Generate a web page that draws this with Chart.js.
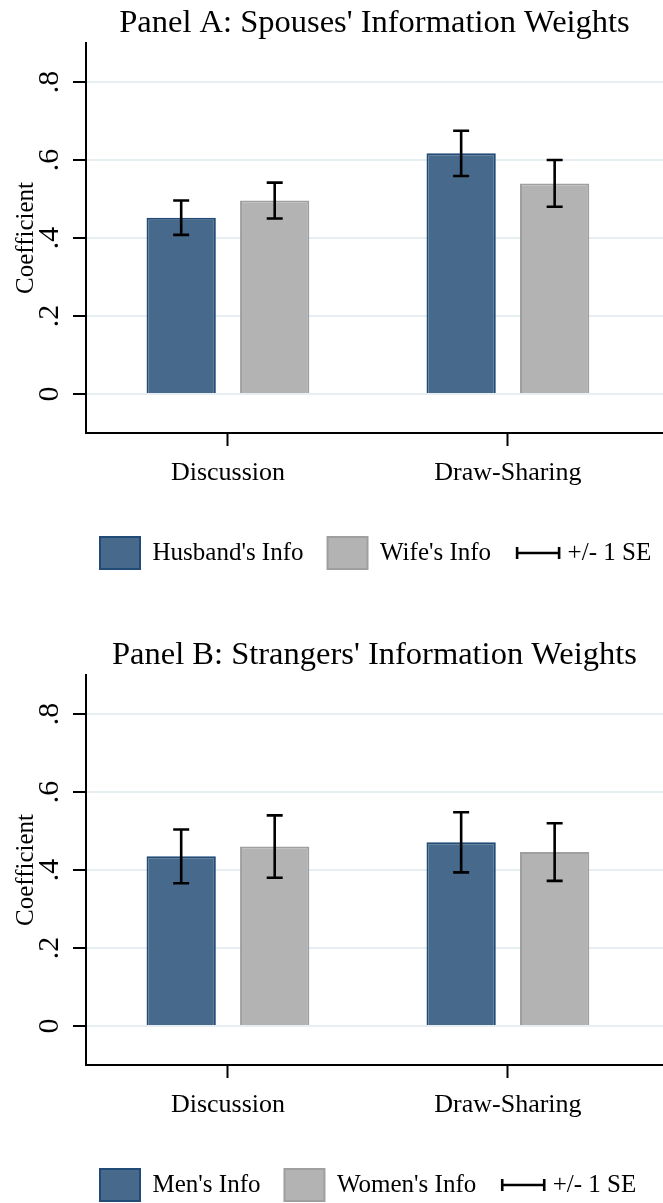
<!DOCTYPE html>
<html>
<head>
<meta charset="utf-8">
<script src="https://cdn.jsdelivr.net/npm/chart.js@4.4.1/dist/chart.umd.min.js"></script>
<style>
  html, body { margin: 0; padding: 0; background: #fff; overflow: hidden; width: 663px; height: 1203px; }
  .panel { position: absolute; left: 0; width: 663px; height: 600px; }
  #panelA { top: 0; }
  #panelB { top: 632px; }
</style>
</head>
<body>
<div class="panel" id="panelA"><canvas id="chartA" width="663" height="600"></canvas></div>
<div class="panel" id="panelB"><canvas id="chartB" width="663" height="600"></canvas></div>
<script>
// ---- data ----
const categories = ['Discussion', 'Draw-Sharing'];
const yTicks = [0, 0.2, 0.4, 0.6, 0.8];
const yTickLabels = ['0', '.2', '.4', '.6', '.8'];

// Panel A: spouses
const husbandInfo = [0.452, 0.617];
const husbandSE   = [0.044, 0.058];
const wifeInfo    = [0.496, 0.540];
const wifeSE      = [0.046, 0.060];

// Panel B: strangers
const menInfo   = [0.435, 0.471];
const menSE     = [0.069, 0.077];
const womenInfo = [0.460, 0.446];
const womenSE   = [0.080, 0.074];

const seLabel = '+/- 1 SE';

// ---- styling ----
const FONT = "'Liberation Serif', 'Times New Roman', serif";
const NAVY_FILL = '#476a8c', NAVY_EDGE = '#1f4b76';
const GREY_FILL = '#b3b3b3', GREY_EDGE = '#9f9f9f';
const GRID = '#e6eef1';
const LEGEND_PAD = 24;

function makePanel(canvasId, titleText, series) {
  // whiskers of +/- 1 SE drawn on top of each bar
  const errorBars = {
    id: 'errorBars',
    afterDatasetsDraw(chart) {
      const ctx = chart.ctx, y = chart.scales.y;
      ctx.save();
      ctx.strokeStyle = '#000';
      ctx.lineWidth = 2.6;
      series.forEach((s, d) => {
        chart.getDatasetMeta(d).data.forEach((bar, i) => {
          const top = y.getPixelForValue(s.values[i] + s.se[i]);
          const bot = y.getPixelForValue(s.values[i] - s.se[i]);
          ctx.beginPath();
          ctx.moveTo(bar.x, top); ctx.lineTo(bar.x, bot);
          ctx.moveTo(bar.x - 8, top); ctx.lineTo(bar.x + 8, top);
          ctx.moveTo(bar.x - 8, bot); ctx.lineTo(bar.x + 8, bot);
          ctx.stroke();
        });
      });
      ctx.restore();
    }
  };

  // start the legend row just inside the plot region and draw the whisker key
  const legendKey = {
    id: 'legendKey',
    afterLayout(chart) {
      chart.legend.left = chart.chartArea.left + 14 - LEGEND_PAD;
      chart.legend.right = chart.width + 80;
    },
    afterDraw(chart) {
      const hb = chart.legend.legendHitBoxes[series.length];
      if (!hb) return;
      const ctx = chart.ctx;
      const cy = hb.top + hb.height / 2;
      const x0 = hb.left + 2, x1 = hb.left + 44;
      ctx.save();
      ctx.strokeStyle = '#000';
      ctx.lineWidth = 2.6;
      ctx.beginPath();
      ctx.moveTo(x0, cy); ctx.lineTo(x1, cy);
      ctx.moveTo(x0, cy - 6); ctx.lineTo(x0, cy + 6);
      ctx.moveTo(x1, cy - 6); ctx.lineTo(x1, cy + 6);
      ctx.stroke();
      ctx.restore();
    }
  };

  return new Chart(document.getElementById(canvasId), {
    type: 'bar',
    data: {
      datasets: series.map(s => ({
        label: s.label,
        data: s.values.map((v, i) => ({ x: i + 1, y: v })),
        backgroundColor: s.fill,
        borderColor: s.edge,
        borderWidth: 2,
        categoryPercentage: 0.668,
        barPercentage: 0.741
      }))
    },
    options: {
      responsive: false,
      animation: false,
      devicePixelRatio: 1,
      layout: { padding: { top: 0, left: 0, right: 0, bottom: 21 } },
      plugins: {
        tooltip: { enabled: false },
        title: {
          display: true,
          text: titleText,
          fullSize: false,
          color: '#000',
          font: { family: FONT, size: 32.5, weight: 'normal', lineHeight: 1.2 },
          padding: { top: 4, bottom: 0 }
        },
        legend: {
          position: 'bottom',
          align: 'start',
          labels: {
            boxWidth: 40,
            boxHeight: 32,
            padding: LEGEND_PAD,
            color: '#000',
            font: { family: FONT, size: 25 },
            generateLabels: () => [
              ...series.map((s, d) => ({
                text: s.label, fillStyle: s.fill, strokeStyle: s.edge,
                lineWidth: 2, hidden: false, datasetIndex: d
              })),
              { text: seLabel, fillStyle: 'rgba(0,0,0,0)', strokeStyle: 'rgba(0,0,0,0)',
                lineWidth: 0, hidden: false }
            ]
          }
        }
      },
      scales: {
        x: {
          type: 'linear',
          offset: false,
          min: 0.493,
          max: 2.554,
          afterBuildTicks: s => { s.ticks = categories.map((_, i) => ({ value: i + 1 })); },
          afterFit: s => { s.height = 80; },
          ticks: {
            callback: (v, i) => categories[i],
            color: '#000',
            font: { family: FONT, size: 26 },
            padding: 12,
            minRotation: 0,
            maxRotation: 0,
            autoSkip: false
          },
          grid: {
            drawOnChartArea: false,
            drawTicks: true,
            tickLength: 13,
            tickColor: '#000',
            tickWidth: 2,
            offset: false
          },
          border: { display: true, color: '#000', width: 2 }
        },
        y: {
          min: -0.1,
          max: 0.9,
          afterBuildTicks: s => { s.ticks = yTicks.map(v => ({ value: v })); },
          afterFit: s => { s.width = 86; },
          ticks: {
            callback: (v, i) => yTickLabels[i],
            color: '#000',
            font: { family: FONT, size: 30 },
            minRotation: 90,
            maxRotation: 90,
            crossAlign: 'center',
            padding: 12
          },
          grid: {
            color: GRID,
            lineWidth: 2,
            drawTicks: true,
            tickLength: 13,
            tickColor: '#000',
            tickWidth: 2
          },
          border: { display: true, color: '#000', width: 2 },
          title: {
            display: true,
            text: 'Coefficient',
            color: '#000',
            font: { family: FONT, size: 25, lineHeight: 1.2 },
            padding: { top: 11, bottom: 0 }
          }
        }
      }
    },
    plugins: [errorBars, legendKey]
  });
}

makePanel('chartA', "Panel A: Spouses' Information Weights", [
  { label: "Husband's Info", values: husbandInfo, se: husbandSE, fill: NAVY_FILL, edge: NAVY_EDGE },
  { label: "Wife's Info",    values: wifeInfo,    se: wifeSE,    fill: GREY_FILL, edge: GREY_EDGE }
]);

makePanel('chartB', "Panel B: Strangers' Information Weights", [
  { label: "Men's Info",   values: menInfo,   se: menSE,   fill: NAVY_FILL, edge: NAVY_EDGE },
  { label: "Women's Info", values: womenInfo, se: womenSE, fill: GREY_FILL, edge: GREY_EDGE }
]);
</script>
</body>
</html>
